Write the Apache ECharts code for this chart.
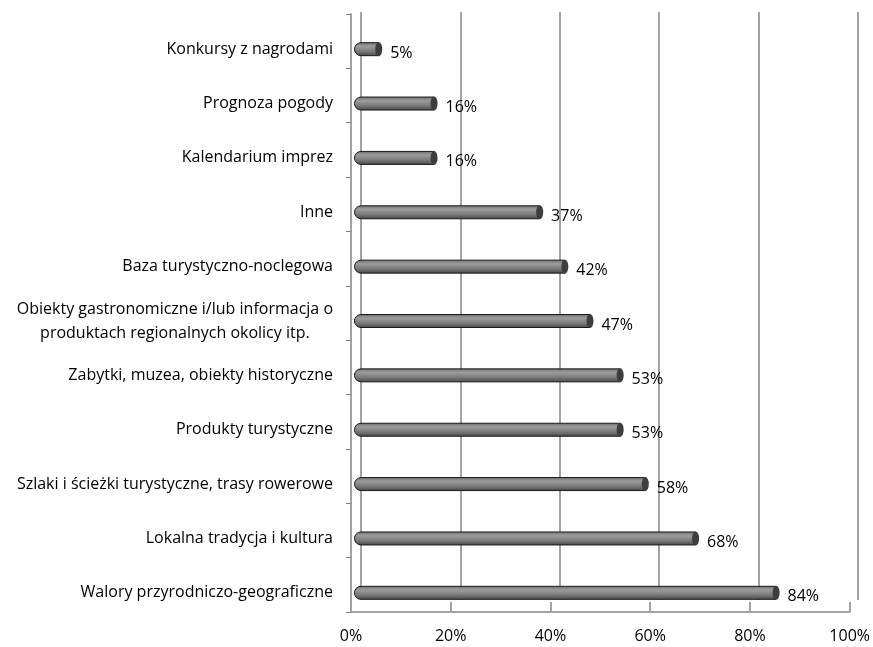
<!DOCTYPE html>
<html>
<head>
<meta charset="utf-8">
<script src="https://cdn.jsdelivr.net/npm/echarts@6/dist/echarts.min.js"></script>
<style>
  html, body { margin: 0; padding: 0; background: #fff; }
  #chart { width: 873px; height: 647px; }
</style>
</head>
<body>
<div id="chart"></div>
<script>
// categories top to bottom
var categories = [
  'Konkursy z nagrodami',
  'Prognoza pogody',
  'Kalendarium imprez',
  'Inne',
  'Baza turystyczno-noclegowa',
  'Obiekty gastronomiczne i/lub informacja o\nproduktach regionalnych okolicy itp.',
  'Zabytki, muzea, obiekty historyczne',
  'Produkty turystyczne',
  'Szlaki i ścieżki turystyczne, trasy rowerowe',
  'Lokalna tradycja i kultura',
  'Walory przyrodniczo-geograficzne'
];
var values = [5, 16, 16, 37, 42, 47, 53, 53, 58, 68, 84];
var xTicks = [0, 20, 40, 60, 80, 100];

var chart = echarts.init(document.getElementById('chart'), null, { renderer: 'canvas' });

var fontFamily = 'Open Sans';
var fontSize = 16;
var gridColor = '#a3a3a3';

var barFill = new echarts.graphic.LinearGradient(0, 0, 0, 1, [
  { offset: 0, color: '#6e6e6e' },
  { offset: 0.3, color: '#9c9c9c' },
  { offset: 0.65, color: '#7a7a7a' },
  { offset: 1, color: '#464646' }
]);

var option = {
  animation: false,
  textStyle: { fontFamily: fontFamily, fontSize: fontSize, color: '#000' },
  grid: [
    // back wall
    { left: 361, right: 15, top: 12, bottom: 47 },
    // bars
    { left: 354, right: 16, top: 22, bottom: 27 },
    // floor front edge
    { left: 351, right: 21, top: 560, bottom: 35 },
    // front left edge with ticks
    { left: 351, right: 21, top: 14, bottom: 35 }
  ],
  xAxis: [
    {
      gridIndex: 0, type: 'value', min: 0, max: 100, interval: 20,
      axisLine: { show: false }, axisTick: { show: false }, axisLabel: { show: false },
      splitLine: { show: true, lineStyle: { color: gridColor, width: 2 } }
    },
    {
      gridIndex: 1, type: 'value', min: 0, max: 100, interval: 20, show: false
    },
    {
      gridIndex: 2, type: 'value', min: 0, max: 100, interval: 20,
      axisLine: { show: true, lineStyle: { color: gridColor, width: 2 } },
      axisTick: { show: true, inside: true, length: 10, lineStyle: { color: gridColor, width: 2 } },
      axisLabel: {
        margin: 16, fontSize: fontSize, color: '#000', fontFamily: fontFamily,
        formatter: function (v) { return v + '%'; }
      },
      splitLine: { show: false }
    },
    {
      gridIndex: 3, type: 'value', min: 0, max: 100, show: false
    }
  ],
  yAxis: [
    { gridIndex: 0, type: 'category', data: categories, show: false },
    {
      gridIndex: 1, type: 'category', data: categories, inverse: true,
      axisLine: { show: false },
      axisTick: { show: false },
      axisLabel: {
        margin: 21, color: '#000', fontSize: fontSize, fontFamily: fontFamily,
        formatter: function (v) {
          return v.split('\n').map(function (s) { return '{c|' + s + '}'; }).join('\n');
        },
        rich: { c: { align: 'center', fontSize: fontSize, fontFamily: fontFamily, color: '#000', lineHeight: 24 } }
      },
      splitLine: { show: false }
    },
    { gridIndex: 2, type: 'category', data: [''], show: false },
    {
      gridIndex: 3, type: 'category', data: categories, inverse: true,
      axisLine: { show: true, lineStyle: { color: gridColor, width: 2 } },
      axisTick: { show: true, length: 5, lineStyle: { color: '#7f7f7f', width: 1 } },
      axisLabel: { show: false },
      splitLine: { show: false }
    }
  ],
  series: [
    {
      type: 'bar',
      xAxisIndex: 1, yAxisIndex: 1,
      data: values,
      barWidth: 14,
      itemStyle: {
        color: barFill,
        borderColor: '#1a1a1a',
        borderWidth: 1,
        borderRadius: [7, 0, 0, 7]
      },
      label: {
        show: true,
        position: 'right',
        distance: 11,
        offset: [0, 4],
        color: '#000',
        fontSize: fontSize,
        fontFamily: fontFamily,
        formatter: '{c}%'
      },
      z: 2
    },
    {
      type: 'pictorialBar',
      xAxisIndex: 1, yAxisIndex: 1,
      data: values,
      symbol: 'circle',
      symbolSize: [7, 14],
      symbolPosition: 'end',
      symbolOffset: ['50%', 0],
      itemStyle: { color: '#3e3e3e', borderColor: '#111', borderWidth: 1.2 },
      z: 3
    }
  ]
};

chart.setOption(option);
window.addEventListener('resize', chart.resize);
</script>
</body>
</html>
